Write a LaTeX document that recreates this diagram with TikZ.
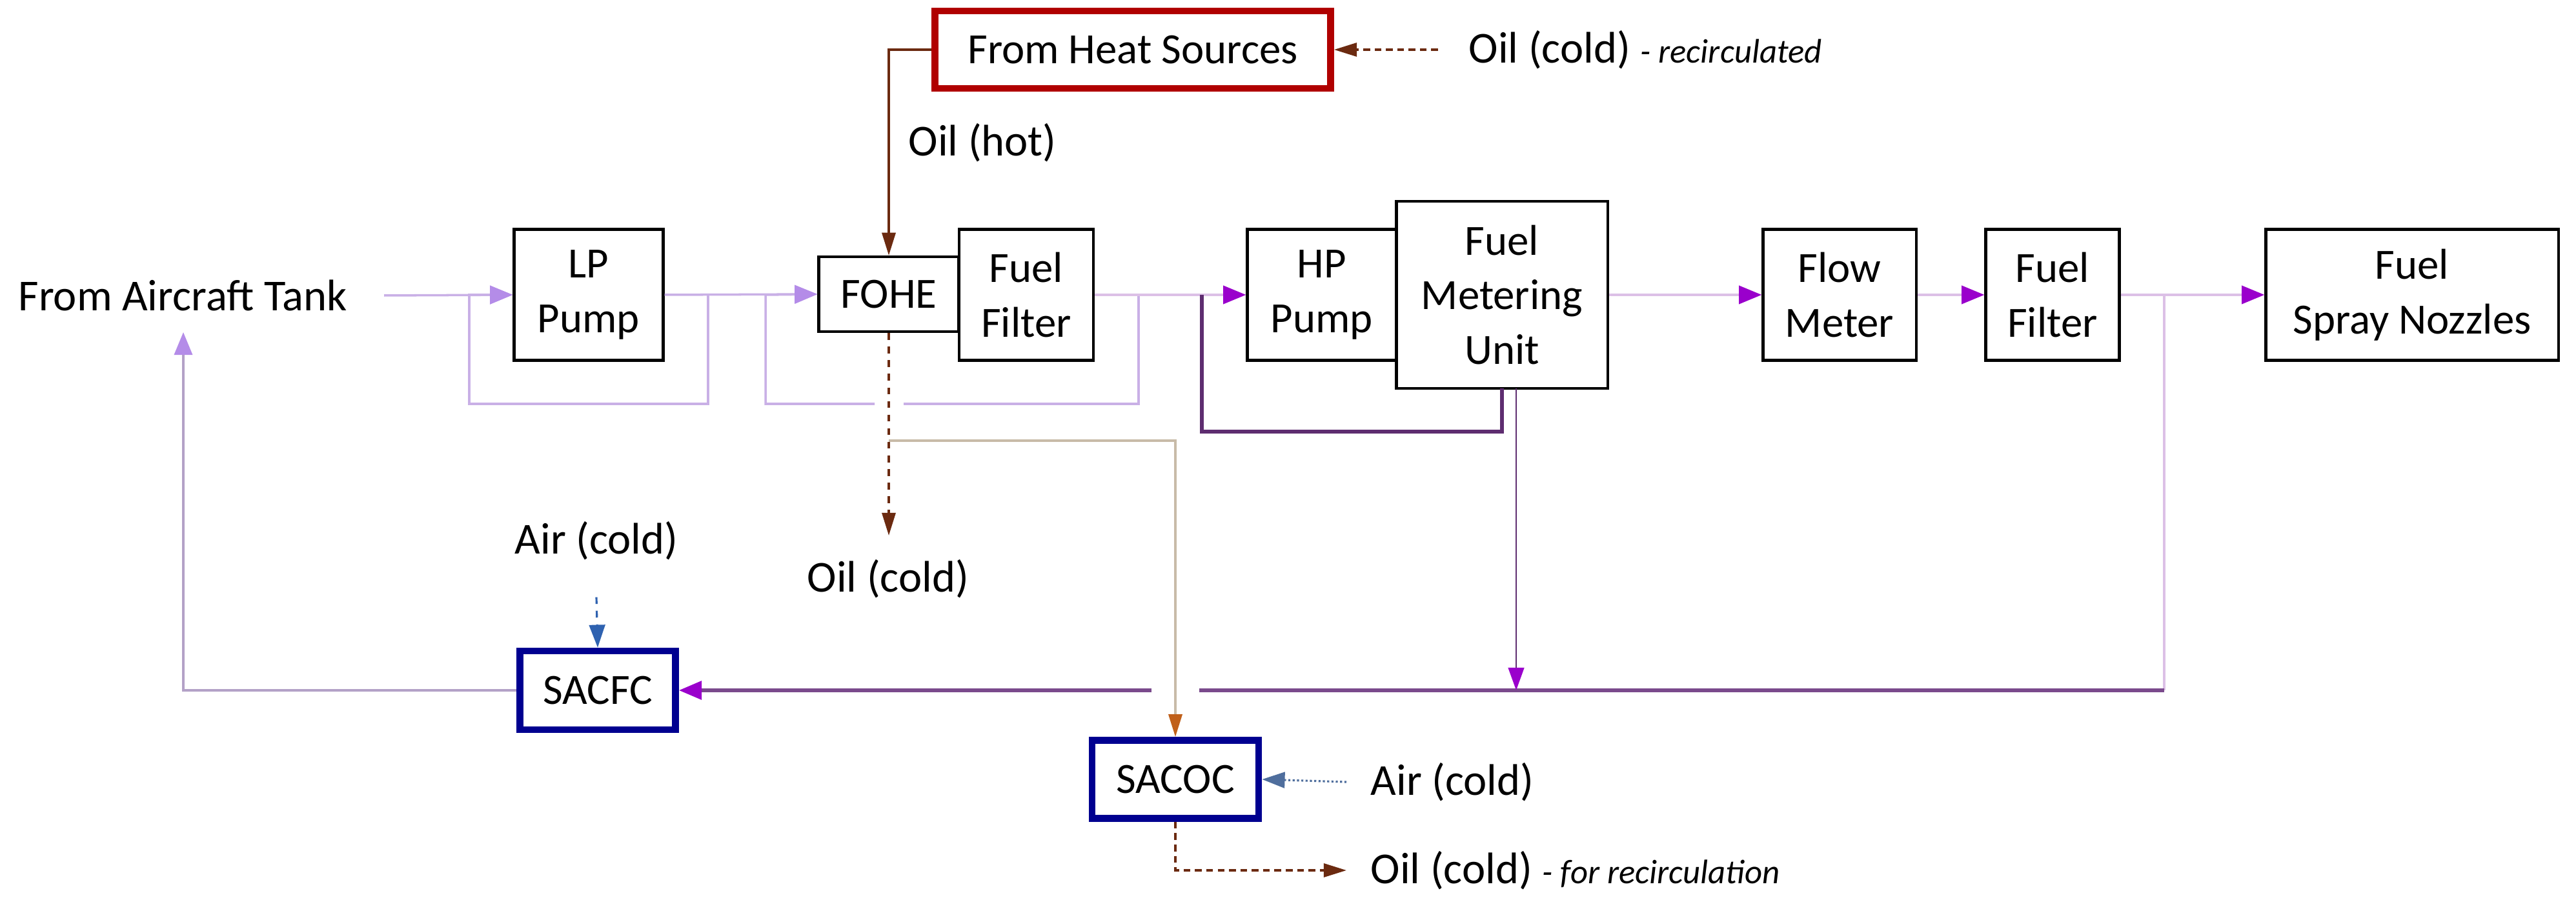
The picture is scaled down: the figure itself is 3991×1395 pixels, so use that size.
\documentclass[tikz,border=0pt]{standalone}
\usepackage{fontspec}
\setmainfont{Carlito}
\usetikzlibrary{arrows.meta}
\definecolor{lav}{HTML}{C9B0E6}
\definecolor{lavtip}{HTML}{B48CE8}
\definecolor{pinkline}{HTML}{DCC0E6}
\definecolor{mag}{HTML}{9A00CC}
\definecolor{dpurp}{HTML}{5E2D70}
\definecolor{mpurp}{HTML}{7A4A8C}
\definecolor{oilbrown}{HTML}{6B2A10}
\definecolor{tan}{HTML}{C8BBA8}
\definecolor{orng}{HTML}{C0601A}
\definecolor{airblue}{HTML}{2F62B0}
\definecolor{boxblue}{HTML}{000090}
\definecolor{boxred}{HTML}{B00000}
\tikzset{
  unit/.style={draw, line width=1.2pt, align=center, inner sep=0pt, font=\fontsize{19}{24}\selectfont},
  cooler/.style={unit, draw=boxblue, line width=3pt},
  label/.style={align=center, inner sep=2pt, font=\fontsize{19.5}{24}\selectfont},
  lp/.style={draw=lav, line width=1pt, -{Triangle[length=10pt,width=8pt,color=lavtip]}},
  hp/.style={draw=pinkline, line width=1pt, -{Triangle[length=10pt,width=8pt,color=mag]}},
  oil/.style={draw=oilbrown, line width=0.9pt, -{Triangle[length=10pt,width=6pt]}},
  air/.style={draw=airblue, line width=0.9pt, dashed, -{Triangle[length=10pt,width=7pt]}}
}
\begin{document}
\begin{tikzpicture}[x=0.01cm, y=-0.01cm]
\useasboundingbox (0,0) rectangle (3991,1395);

% fuel line units
\node[label] (tank) at (283,458) {From Aircraft Tank};
\node[unit, minimum width=2.31cm, minimum height=2.03cm] (lppump) at (912,457) {LP\\Pump};
\node[unit, minimum width=2.17cm, minimum height=1.16cm] (fohe) at (1377,456) {FOHE};
\node[unit, minimum width=2.08cm, minimum height=2.03cm] (filtA) at (1590,457) {Fuel\\Filter};
\node[unit, minimum width=2.31cm, minimum height=2.03cm] (hppump) at (2048,457) {HP\\Pump};
\node[unit, minimum width=3.27cm, minimum height=2.90cm] (fmu) at (2327,457) {Fuel\\Metering\\Unit};
\node[unit, minimum width=2.37cm, minimum height=2.03cm] (flow) at (2850,457) {Flow\\Meter};
\node[unit, minimum width=2.07cm, minimum height=2.03cm] (filtB) at (3180,457) {Fuel\\Filter};
\node[unit, minimum width=4.53cm, minimum height=2.03cm] (nozzle) at (3737,457) {Fuel\\Spray Nozzles};

% oil and air side
\node[unit, draw=boxred, line width=3pt, minimum width=6.13cm, minimum height=1.20cm] (heat) at (1755,77) {From Heat Sources};
\node[label, anchor=west] (oilrec) at (2268,77) {Oil (cold) {\fontsize{15}{18}\selectfont\itshape - recirculated}};
\node[label, anchor=west] (oilhot) at (1400,221) {Oil (hot)};
\node[label] (oilcold) at (1376,897) {Oil (cold)};
\node[label] (airA) at (924,838) {Air (cold)};
\node[cooler, minimum width=2.41cm, minimum height=1.22cm] (sacfc) at (926,1070) {SACFC};
\node[cooler, minimum width=2.58cm, minimum height=1.21cm] (sacoc) at (1821,1208) {SACOC};
\node[label, anchor=west] (airB) at (2116,1212) {Air (cold)};
\node[label, anchor=west] (oilout) at (2116,1349) {Oil (cold) {\fontsize{15}{18}\selectfont\itshape - for recirculation}};

\coordinate (lpout) at (1097,457);
\coordinate (foheout) at (1764,457);
\coordinate (split) at (3353,457);
\coordinate (oilsplit) at (1377,683);

% low pressure stage
\draw[lp] ([xshift=0.5cm]tank.east) -- (lppump.west);
\draw[lp] (lpout) -- (1097,626) -- (727,626) -- (727,457) -- (lppump.west);
\draw[lp] (lppump.east) -- (fohe.west);
\draw[draw=lav, line width=1pt] (foheout) -- (1764,626) -- (1400,626);
\draw[lp] (1355,626) -- (1186,626) -- (1186,457) -- (fohe.west);

% high pressure stage
\draw[hp] (filtA.east) -- (hppump.west);
\draw[draw=dpurp, line width=1.6pt] (2327,602) -- (2327,669) -- (1862,669) -- (1862,457);
\draw[hp] (fmu.east) -- (flow.west);
\draw[hp] (flow.east) -- (filtB.west);
\draw[hp] (filtB.east) -- (nozzle.west);

% recirculation through SACFC
\draw[draw=pinkline, line width=1pt] (split) -- (3353,1070);
\draw[draw=mpurp, line width=1.6pt] (3353,1070) -- (1858,1070);
\draw[draw=mpurp, line width=1.6pt, -{Triangle[length=10pt,width=8pt,color=mag]}] (1784,1070) -- (sacfc.east);
\draw[draw=dpurp, line width=0.8pt, -{Triangle[length=10pt,width=7pt,color=mag]}] (2349,602) -- (2349,1070);
\draw[lp, draw=lav!70!gray] (sacfc.west) -- (284,1070) -- (284,515);

% oil circuit
\draw[oil] (heat.west) -- (1377,77) -- (fohe.north);
\draw[oil, densely dashed] ([xshift=-0.4cm]oilrec.west) -- (heat.east);
\draw[oil, dashed] (fohe.south) -- (1377,830);
\draw[draw=tan, line width=1pt, -{Triangle[length=10pt,width=6pt,color=orng]}] (oilsplit) -- (1821,683) -- (sacoc.north);
\draw[oil, densely dashed] (sacoc.south) -- (1821,1349) -- ([xshift=-0.3cm]oilout.west);

% air
\draw[air] ([yshift=-0.5cm]airA.south) -- (sacfc.north);
\draw[air, densely dotted, draw=airblue!60!gray] ([xshift=-0.3cm]airB.west) -- (sacoc.east);
\end{tikzpicture}
\end{document}
